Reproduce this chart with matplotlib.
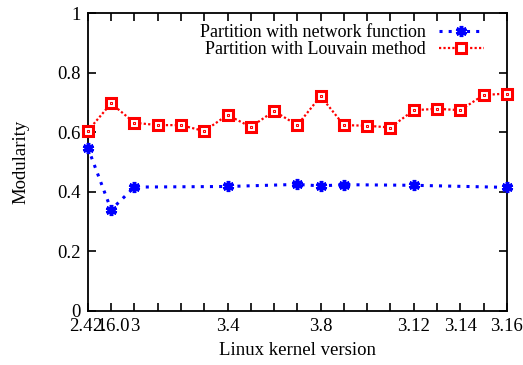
import numpy as np
import matplotlib.pyplot as plt

# Data
versions = ["2.4.1", "2.6.0", "3.0", "3.1", "3.2", "3.3", "3.4", "3.5", "3.6", "3.7",
            "3.8", "3.9", "3.10", "3.11", "3.12", "3.13", "3.14", "3.15", "3.16"]
shown_labels = {0: "2.4.1", 1: "2.6.0", 2: "3", 6: "3.4", 10: "3.8",
                14: "3.12", 16: "3.14", 18: "3.16"}

louvain = [0.605, 0.697, 0.632, 0.624, 0.624, 0.604, 0.658, 0.618, 0.671, 0.624,
           0.721, 0.624, 0.622, 0.616, 0.674, 0.679, 0.674, 0.725, 0.730]

net_idx = [0, 1, 2, 6, 9, 10, 11, 14, 18]
net_func = [0.548, 0.340, 0.416, 0.418, 0.425, 0.420, 0.424, 0.422, 0.415]

plt.rcParams['font.family'] = ['Liberation Serif', 'DejaVu Serif']
plt.rcParams['font.size'] = 13.5

fig = plt.figure(figsize=(5.23, 3.65), dpi=100)
ax = fig.add_axes([0.168, 0.148, 0.801, 0.816])

x = np.arange(len(versions))

ax.plot(net_idx, net_func, color='blue', linestyle=(0, (1, 2)), linewidth=2.2,
        marker=(6, 2, 0), markersize=8, markeredgewidth=2.5, markeredgecolor='blue',
        label='Partition with network function', clip_on=False, zorder=3)
ax.plot(x, louvain, color='red', linestyle=(0, (1, 1)), linewidth=1.6,
        marker='s', markersize=7.5, markerfacecolor='white', markeredgecolor='red',
        markeredgewidth=2.2, label='Partition with Louvain method', clip_on=False, zorder=3)
ax.plot(x, louvain, linestyle='none', marker='s', markersize=2, markerfacecolor='white',
        markeredgecolor='red', markeredgewidth=0.8, clip_on=False, zorder=4)

ax.set_xlim(0, 18)
ax.set_ylim(0, 1)
ax.set_xticks(x)
ax.set_xticklabels([shown_labels.get(i, "") for i in x])
ax.set_yticks([0, 0.2, 0.4, 0.6, 0.8, 1.0])
ax.set_yticklabels(["0", "0.2", "0.4", "0.6", "0.8", "1"])
ax.tick_params(direction='in', length=6, width=1.2, top=True, right=True, pad=5)
for s in ax.spines.values():
    s.set_linewidth(1.3)

ax.set_xlabel('Linux kernel version', labelpad=5)
ax.set_ylabel('Modularity', labelpad=20)

ax.legend(loc='upper right', bbox_to_anchor=(0.975, 1.005), frameon=False,
          markerfirst=False, handlelength=2.5, handletextpad=0.7, fontsize=13,
          labelspacing=0.0, borderaxespad=0.3)

fig.savefig('out.png', dpi=100)
